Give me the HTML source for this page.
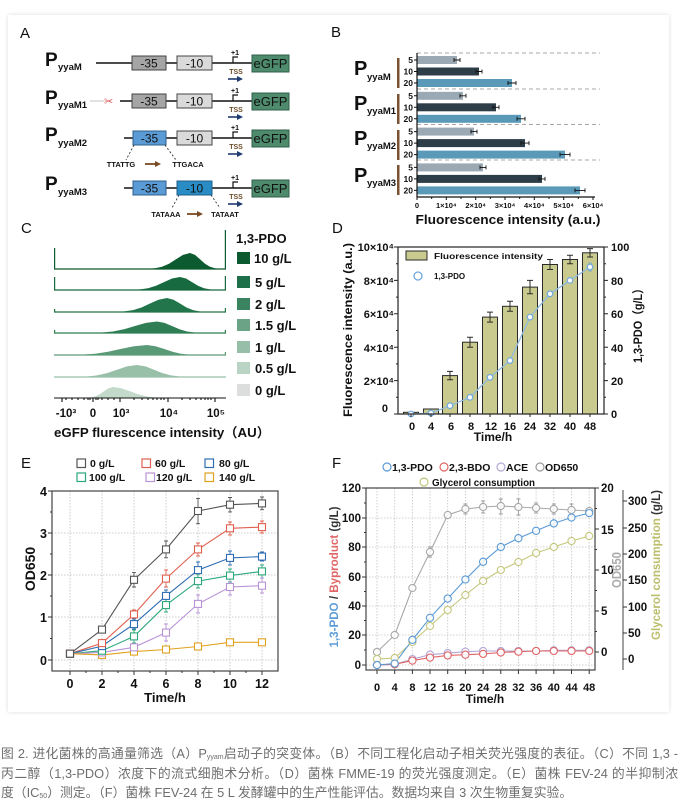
<!DOCTYPE html>
<html><head><meta charset="utf-8"><style>
html,body{margin:0;padding:0;background:#fff;width:680px;height:804px;overflow:hidden;position:relative;}
.card{position:absolute;left:8px;top:15px;width:661px;height:697px;background:#fff;box-shadow:0 0 4px rgba(0,0,0,0.14);}
svg{position:absolute;left:0;top:0;}
.cap{position:absolute;left:1px;width:677px;font-family:"Liberation Sans","Noto Sans CJK SC",sans-serif;font-size:12.8px;color:#6e6e6e;line-height:19.5px;white-space:nowrap;}
.j{text-align:justify;text-align-last:justify;}
sub{font-size:7px;vertical-align:-1px;line-height:0;}
</style></head><body>
<div class="card"></div>
<svg width="680" height="804" viewBox="0 0 680 804" font-family="Liberation Sans, Arial, sans-serif">
<!-- Panel labels -->
<g font-size="15" fill="#111">
<text x="20" y="38">A</text><text x="331" y="37">B</text>
<text x="21" y="233">C</text><text x="332" y="233">D</text>
<text x="21" y="468">E</text><text x="332" y="468">F</text>
</g>

<!-- ===== Panel A ===== -->
<defs>
<g id="tss">
<path d="M233,63 V57 H238" fill="none" stroke="#111" stroke-width="1.2"/>
<text x="235" y="55" font-size="7" font-weight="bold" text-anchor="middle" fill="#111">+1</text>
<text x="236" y="74" font-size="7" font-weight="bold" text-anchor="middle" fill="#6b4c2a">TSS</text>
<line x1="228" y1="79" x2="238" y2="79" stroke="#1f3b70" stroke-width="1.6"/>
<polygon points="237,76 243,79 237,82" fill="#1f3b70"/>
<rect x="252" y="55" width="37" height="17" fill="#4e8b6c" stroke="#2f5f48"/>
<text x="270.5" y="68" font-size="13" text-anchor="middle" fill="#111">eGFP</text>
</g>
</defs>
<g font-weight="bold" fill="#111">
<text x="45" y="66" font-size="19">P</text><text x="58" y="70" font-size="9.5">yyaM</text>
<text x="45" y="104" font-size="19">P</text><text x="58" y="108" font-size="9.5">yyaM1</text>
<text x="45" y="141" font-size="19">P</text><text x="58" y="146" font-size="9.5">yyaM2</text>
<text x="45" y="190" font-size="19">P</text><text x="58" y="195" font-size="9.5">yyaM3</text>
</g>
<!-- row1 -->
<line x1="96" y1="63" x2="252" y2="63" stroke="#111" stroke-width="1.5"/>
<rect x="132" y="56" width="34" height="14" fill="#a5a5a5" stroke="#444"/>
<rect x="177" y="56" width="35" height="14" fill="#dadada" stroke="#444"/>
<text x="149" y="67.5" font-size="12" text-anchor="middle" fill="#111">-35</text>
<text x="194.5" y="67.5" font-size="12" text-anchor="middle" fill="#111">-10</text>
<use href="#tss"/>
<!-- row2 -->
<g transform="translate(0,38)">
<line x1="90" y1="63" x2="104" y2="63" stroke="#cfcfcf" stroke-width="1.2"/>
<text x="104" y="67" font-size="11" fill="#d9534f">✂</text>
<line x1="120" y1="63" x2="252" y2="63" stroke="#111" stroke-width="1.5"/>
<rect x="132" y="56" width="34" height="14" fill="#a5a5a5" stroke="#444"/>
<rect x="177" y="56" width="35" height="14" fill="#dadada" stroke="#444"/>
<text x="149" y="67.5" font-size="12" text-anchor="middle" fill="#111">-35</text>
<text x="194.5" y="67.5" font-size="12" text-anchor="middle" fill="#111">-10</text>
<use href="#tss"/>
</g>
<!-- row3 -->
<g transform="translate(0,75)">
<line x1="124" y1="63" x2="252" y2="63" stroke="#111" stroke-width="1.5"/>
<rect x="133" y="56" width="33" height="14" fill="#5b9bd5" stroke="#2d5f8a"/>
<rect x="177" y="56" width="35" height="14" fill="#dadada" stroke="#444"/>
<text x="149.5" y="67.5" font-size="12" text-anchor="middle" fill="#111">-35</text>
<text x="194.5" y="67.5" font-size="12" text-anchor="middle" fill="#111">-10</text>
<use href="#tss"/>
</g>
<g stroke="#333" stroke-dasharray="2,2" stroke-width="0.9">
<line x1="134" y1="145" x2="126" y2="160"/><line x1="165" y1="145" x2="176" y2="160"/>
<line x1="179" y1="195" x2="172" y2="208"/><line x1="211" y1="195" x2="220" y2="208"/>
</g>
<g font-size="7.5" font-weight="bold" fill="#111" text-anchor="middle">
<text x="121" y="167">TTATTG</text><text x="188" y="167">TTGACA</text>
<text x="166" y="217">TATAAA</text><text x="225" y="217">TATAAT</text>
</g>
<line x1="145" y1="164" x2="156" y2="164" stroke="#7a4a22" stroke-width="1.8"/>
<polygon points="155,161 161,164 155,167" fill="#7a4a22"/>
<line x1="187" y1="214" x2="198" y2="214" stroke="#7a4a22" stroke-width="1.8"/>
<polygon points="197,211 203,214 197,217" fill="#7a4a22"/>
<!-- row4 -->
<g transform="translate(0,125)">
<line x1="124" y1="63" x2="252" y2="63" stroke="#111" stroke-width="1.5"/>
<rect x="133" y="56" width="33" height="14" fill="#5b9bd5" stroke="#2d5f8a"/>
<rect x="177" y="56" width="35" height="14" fill="#2a8cc4" stroke="#1d5f88"/>
<text x="149.5" y="67.5" font-size="12" text-anchor="middle" fill="#111">-35</text>
<text x="194.5" y="67.5" font-size="12" text-anchor="middle" fill="#111">-10</text>
<use href="#tss"/>
</g>

<!-- ===== Panel B ===== -->
<g stroke="#8a8a8a" stroke-dasharray="4,3" stroke-width="0.8">
<line x1="417" y1="53" x2="600" y2="53"/><line x1="417" y1="89" x2="600" y2="89"/>
<line x1="417" y1="124.5" x2="600" y2="124.5"/><line x1="417" y1="160" x2="600" y2="160"/>
</g>
<g>
<rect x="417" y="56" width="40" height="8" fill="#9aa9b3"/>
<rect x="417" y="67.5" width="62" height="8" fill="#2d3e48"/>
<rect x="417" y="79" width="95" height="8" fill="#5a9ab8"/>
<rect x="417" y="91.8" width="46" height="8" fill="#9aa9b3"/>
<rect x="417" y="103.3" width="79" height="8" fill="#2d3e48"/>
<rect x="417" y="114.8" width="104" height="8" fill="#5a9ab8"/>
<rect x="417" y="127.6" width="57" height="8" fill="#9aa9b3"/>
<rect x="417" y="139.1" width="108" height="8" fill="#2d3e48"/>
<rect x="417" y="150.6" width="148" height="8" fill="#5a9ab8"/>
<rect x="417" y="163.4" width="66" height="8" fill="#9aa9b3"/>
<rect x="417" y="174.9" width="125" height="8" fill="#2d3e48"/>
<rect x="417" y="186.4" width="163" height="8" fill="#5a9ab8"/>
</g>
<g stroke="#111" stroke-width="0.9" fill="none">
<path d="M454,60 H460 M454,58 V62 M460,58 V62"/>
<path d="M476,71.5 H482 M476,69.5 V73.5 M482,69.5 V73.5"/>
<path d="M508,83 H516 M508,81 V85 M516,81 V85"/>
<path d="M460,95.8 H466 M460,93.8 V97.8 M466,93.8 V97.8"/>
<path d="M493,107.3 H499 M493,105.3 V109.3 M499,105.3 V109.3"/>
<path d="M517,118.8 H525 M517,116.8 V120.8 M525,116.8 V120.8"/>
<path d="M471,131.6 H477 M471,129.6 V133.6 M477,129.6 V133.6"/>
<path d="M521,143.1 H529 M521,141.1 V145.1 M529,141.1 V145.1"/>
<path d="M560,154.6 H570 M560,152.6 V156.6 M570,152.6 V156.6"/>
<path d="M480,167.4 H486 M480,165.4 V169.4 M486,165.4 V169.4"/>
<path d="M539,178.9 H545 M539,176.9 V180.9 M545,176.9 V180.9"/>
<path d="M575,190.4 H585 M575,188.4 V192.4 M585,188.4 V192.4"/>
</g>
<g stroke="#111" stroke-width="1.2">
<line x1="417" y1="53" x2="417" y2="197.5"/>
<line x1="416.5" y1="197" x2="595" y2="197"/>
</g>
<g stroke="#111" stroke-width="1">
<path d="M417,197 v3 M446.3,197 v3 M475.7,197 v3 M505,197 v3 M534.3,197 v3 M563.7,197 v3 M593,197 v3"/>
<path d="M431.7,197 v2 M461,197 v2 M490.3,197 v2 M519.7,197 v2 M549,197 v2 M578.3,197 v2"/>
<path d="M414,60 h3 M414,71.5 h3 M414,83 h3 M414,95.8 h3 M414,107.3 h3 M414,118.8 h3 M414,131.6 h3 M414,143.1 h3 M414,154.6 h3 M414,167.4 h3 M414,178.9 h3 M414,190.4 h3"/>
</g>
<g font-size="8.5" font-weight="bold" fill="#111" text-anchor="end">
<text x="413" y="63">5</text><text x="413" y="74.5">10</text><text x="413" y="86">20</text>
<text x="413" y="98.8">5</text><text x="413" y="110.3">10</text><text x="413" y="121.8">20</text>
<text x="413" y="134.6">5</text><text x="413" y="146.1">10</text><text x="413" y="157.6">20</text>
<text x="413" y="170.4">5</text><text x="413" y="181.9">10</text><text x="413" y="193.4">20</text>
</g>
<g fill="#7a5230">
<rect x="397" y="58" width="2.5" height="30"/><rect x="397" y="94" width="2.5" height="30"/>
<rect x="397" y="130" width="2.5" height="30"/><rect x="397" y="165" width="2.5" height="30"/>
</g>
<g font-weight="bold" fill="#111">
<text x="354" y="75" font-size="20">P</text><text x="367" y="80" font-size="9.5">yyaM</text>
<text x="354" y="110" font-size="20">P</text><text x="367" y="114" font-size="9.5">yyaM1</text>
<text x="354" y="145" font-size="20">P</text><text x="367" y="149" font-size="9.5">yyaM2</text>
<text x="354" y="182" font-size="20">P</text><text x="367" y="186" font-size="9.5">yyaM3</text>
</g>
<g font-size="7.5" font-weight="bold" fill="#111" text-anchor="middle">
<text x="417" y="208">0</text><text x="446.3" y="208">1×10⁴</text><text x="475.7" y="208">2×10⁴</text>
<text x="505" y="208">3×10⁴</text><text x="534.3" y="208">4×10⁴</text><text x="563.7" y="208">5×10⁴</text><text x="593" y="208">6×10⁴</text>
</g>
<text x="508" y="224" font-size="12.5" font-weight="bold" text-anchor="middle" fill="#111" textLength="185" lengthAdjust="spacingAndGlyphs">Fluorescence intensity (a.u.)</text>

<!-- ===== Panel C ===== -->
<g>
<path d="M54,269 L148,268.8 L155,268.3 L162,266.8 L169,263.8 L176,259.3 L183,254.9 L190,253 L195,254.9 L200,259.3 L205,263.8 L210,266.8 L215,268.3 L220,268.8 L226,269 Z" fill="#0c5a2f"/>
<path d="M54,269 H226 M54.6,248 V269 M225.4,230 V269" stroke="#0c5a2f" stroke-width="1.2" fill="none"/>
<path d="M54,290 L132,289.9 L140,289.4 L148,288.2 L156,285.8 L164,282.1 L172,278.5 L180,277 L186,278.5 L192,282.1 L198,285.8 L204,288.2 L210,289.4 L216,289.9 L226,290 Z" fill="#17693f"/>
<path d="M54,290 H226 M54.6,277 V290 M225.4,276 V290" stroke="#17693f" stroke-width="1.2" fill="none"/>
<path d="M54,312 L116,311.9 L124.5,311.4 L133,310.1 L141.5,307.5 L150,303.5 L158.5,299.7 L167,298 L173.5,299.7 L180,303.5 L186.5,307.5 L193,310.1 L199.5,311.4 L206,311.9 L226,312 Z" fill="#22744a"/>
<path d="M54,312 H226 M54.6,309 V312 M225.4,308 V312" stroke="#22744a" stroke-width="1.2" fill="none"/>
<path d="M54,333 L91,332.9 L102,332.5 L113,331.5 L124,329.3 L135,326 L146,322.9 L157,321.5 L164.5,322.9 L172,326 L179.5,329.3 L187,331.5 L194.5,332.5 L202,332.9 L226,333 Z" fill="#2f7e54"/>
<path d="M54,333 H226 M54.6,330 V333 M225.4,330 V333" stroke="#2f7e54" stroke-width="1.2" fill="none"/>
<path d="M54,355 L69,354.9 L82,354.6 L95,353.7 L108,351.8 L121,348.9 L134,346.2 L147,345 L155.5,346.2 L164,348.9 L172.5,351.8 L181,353.7 L189.5,354.6 L198,354.9 L226,355 Z" fill="#5b9a77"/>
<path d="M54,355 H226 M225.4,352 V355" stroke="#5b9a77" stroke-width="1.2" fill="none"/>
<path d="M54,377 L77,376.9 L87,376.5 L97,375.4 L107,373.1 L117,369.7 L127,366.4 L137,365 L145.5,366.4 L154,369.7 L162.5,373.1 L171,375.4 L179.5,376.5 L188,376.9 L226,377 Z" fill="#98bfa8"/>
<path d="M54,377 H226" stroke="#98bfa8" stroke-width="1.2" fill="none"/>
<path d="M80,398 L86,397.9 L90.5,397.5 L95,396.5 L99.5,394.4 L104,391.3 L108.5,388.3 L113,387 L121.5,388.3 L130,391.3 L138.5,394.4 L147,396.5 L155.5,397.5 L164,397.9 L170,398 Z" fill="#c3dacb"/>
</g>
<g stroke="#111" stroke-width="1.1" fill="none">
<line x1="54" y1="398" x2="226" y2="398"/>
<path d="M62,398 v4 M93,398 v4 M120,398 v4 M168,398 v4 M215,398 v4"/>
<path d="M66,398 v2 M72,398 v2 M78,398 v2 M84,398 v2 M88,398 v2 M90,398 v2 M96,398 v2 M98,398 v2 M102,398 v2 M108,398 v2 M114,398 v2 M134,398 v2 M142,398 v2 M148,398 v2 M153,398 v2 M157,398 v2 M161,398 v2 M164,398 v2 M182,398 v2 M190,398 v2 M196,398 v2 M201,398 v2 M205,398 v2 M208,398 v2 M211,398 v2"/>
</g>
<g font-size="11.5" font-weight="bold" fill="#111" text-anchor="middle">
<text x="66" y="417">-10³</text><text x="93" y="417">0</text><text x="121" y="417">10³</text>
<text x="169" y="417">10⁴</text><text x="216" y="417">10⁵</text>
</g>
<text x="54" y="437" font-size="13" font-weight="bold" fill="#111" font-family="Liberation Sans, Noto Sans CJK SC, sans-serif" textLength="216" lengthAdjust="spacingAndGlyphs">eGFP flurescence intensity（AU）</text>
<text x="236" y="243" font-size="13" font-weight="bold" fill="#111">1,3-PDO</text>
<g>
<rect x="237" y="252" width="13" height="12" fill="#0c5a2f"/>
<rect x="237" y="276" width="13" height="12" fill="#1d7049"/>
<rect x="237" y="298" width="13" height="12" fill="#3a8461"/>
<rect x="237" y="319" width="13" height="12" fill="#6aa386"/>
<rect x="237" y="341" width="13" height="12" fill="#97bea8"/>
<rect x="237" y="362" width="13" height="12" fill="#b9d3c4"/>
<rect x="237" y="384" width="13" height="12" fill="#dcdedd"/>
</g>
<g font-size="13" font-weight="bold" fill="#111">
<text x="254" y="263">10 g/L</text><text x="255" y="287">5 g/L</text><text x="255" y="309">2 g/L</text>
<text x="255" y="330">1.5 g/L</text><text x="255" y="352">1 g/L</text><text x="255" y="373">0.5 g/L</text><text x="255" y="395">0 g/L</text>
</g>

<!-- ===== Panel D ===== -->
<g fill="#c9ca8d" stroke="#2a2a2a" stroke-width="1">
<rect x="403.5" y="412.3" width="15" height="1.7"/>
<rect x="423.5" y="409" width="15" height="5"/>
<rect x="442.5" y="375.6" width="15" height="38.4"/>
<rect x="462.5" y="342.2" width="15" height="71.8"/>
<rect x="482.5" y="317.1" width="15" height="96.9"/>
<rect x="502.5" y="306.3" width="15" height="107.7"/>
<rect x="522.5" y="287.1" width="15" height="126.9"/>
<rect x="542.5" y="264.5" width="15" height="149.5"/>
<rect x="562.5" y="259.5" width="15" height="154.5"/>
<rect x="582.5" y="252.8" width="15" height="161.2"/>
</g>
<g stroke="#2a2a2a" stroke-width="1" fill="none">
<path d="M450,371.4 V379.8 M447,371.4 h6 M447,379.8 h6"/>
<path d="M470,337.2 V347.2 M467,337.2 h6 M467,347.2 h6"/>
<path d="M490,312.1 V322.1 M487,312.1 h6 M487,322.1 h6"/>
<path d="M510,301.3 V311.3 M507,301.3 h6 M507,311.3 h6"/>
<path d="M530,280.4 V293.8 M527,280.4 h6 M527,293.8 h6"/>
<path d="M550,259.5 V269.5 M547,259.5 h6 M547,269.5 h6"/>
<path d="M570,255.3 V263.7 M567,255.3 h6 M567,263.7 h6"/>
<path d="M590,248.6 V257 M587,248.6 h6 M587,257 h6"/>
</g>
<polyline points="411,414 431,413.2 450,405.7 470,397.3 490,377.3 510,360.6 530,317.1 550,293.8 570,280.4 590,267" fill="none" stroke="#8fbbe0" stroke-width="1.3"/>
<path d="M590,263 V271 M588,263 h4 M588,271 h4" stroke="#6fa8dc" stroke-width="0.8"/>
<g fill="#fff" stroke="#6fa8dc" stroke-width="1.2">
<circle cx="411" cy="414" r="2.8"/><circle cx="431" cy="413.2" r="2.8"/><circle cx="450" cy="405.7" r="2.8"/>
<circle cx="470" cy="397.3" r="2.8"/><circle cx="490" cy="377.3" r="2.8"/><circle cx="510" cy="360.6" r="2.8"/>
<circle cx="530" cy="317.1" r="2.8"/><circle cx="550" cy="293.8" r="2.8"/><circle cx="570" cy="280.4" r="2.8"/>
<circle cx="590" cy="267" r="2.8"/>
</g>
<rect x="398" y="247" width="206" height="167" fill="none" stroke="#222" stroke-width="1.2"/>
<g stroke="#222" stroke-width="1">
<path d="M398,247 h-4 M398,280.4 h-4 M398,313.8 h-4 M398,347.2 h-4 M398,380.6 h-4 M398,414 h-4"/>
<path d="M398,263.7 h-2 M398,297.1 h-2 M398,330.5 h-2 M398,363.9 h-2 M398,397.3 h-2"/>
<path d="M604,247 h4 M604,280.4 h4 M604,313.8 h4 M604,347.2 h4 M604,380.6 h4 M604,414 h4"/>
<path d="M604,263.7 h2 M604,297.1 h2 M604,330.5 h2 M604,363.9 h2 M604,397.3 h2"/>
<path d="M411,414 v3 M431,414 v3 M450,414 v3 M470,414 v3 M490,414 v3 M510,414 v3 M530,414 v3 M550,414 v3 M570,414 v3 M590,414 v3"/>
</g>
<g font-size="11" font-weight="bold" fill="#111" text-anchor="end">
<text x="394" y="251">10×10⁴</text><text x="394" y="285">8×10⁴</text><text x="394" y="318">6×10⁴</text>
<text x="394" y="352">4×10⁴</text><text x="394" y="385">2×10⁴</text><text x="388" y="412">0</text>
</g>
<g font-size="11" font-weight="bold" fill="#111">
<text x="611" y="251">100</text><text x="611" y="285">80</text><text x="611" y="318">60</text>
<text x="611" y="352">40</text><text x="611" y="385">20</text><text x="611" y="418">0</text>
</g>
<g font-size="11" font-weight="bold" fill="#111" text-anchor="middle">
<text x="412" y="430">0</text><text x="431" y="430">4</text><text x="451" y="430">6</text><text x="471" y="430">8</text>
<text x="491" y="430">12</text><text x="510" y="430">16</text><text x="530" y="430">24</text><text x="550" y="430">32</text>
<text x="570" y="430">40</text><text x="590" y="430">48</text>
</g>
<text x="493" y="441" font-size="12" font-weight="bold" text-anchor="middle" fill="#111">Time/h</text>
<text transform="translate(352,330) rotate(-90)" font-size="12" font-weight="bold" text-anchor="middle" fill="#111" textLength="174" lengthAdjust="spacingAndGlyphs">Fluorescence intensity (a.u.)</text>
<text transform="translate(642,323) rotate(-90)" font-size="12" font-weight="bold" text-anchor="middle" fill="#111" font-family="Liberation Sans, Noto Sans CJK SC, sans-serif" textLength="80" lengthAdjust="spacingAndGlyphs">1,3-PDO（g/L）</text>
<rect x="406" y="251" width="21" height="9" fill="#c9ca8d" stroke="#2a2a2a"/>
<text x="434" y="259" font-size="8.7" font-weight="bold" fill="#111" textLength="109" lengthAdjust="spacingAndGlyphs">Fluorescence intensity</text>
<circle cx="418" cy="276" r="4" fill="#fff" stroke="#6fa8dc" stroke-width="1.3"/>
<text x="434" y="279" font-size="8" font-weight="bold" fill="#111">1,3-PDO</text>

<!-- ===== Panel E ===== -->
<g stroke="#bdbdbd" stroke-width="0.8" stroke-dasharray="1.5,1.5">
<path d="M70,491 V671 M102,491 V671 M134,491 V671 M166,491 V671 M198,491 V671 M230,491 V671 M262,491 V671"/>
<path d="M52,533 H278 M52,575 H278 M52,617 H278 M52,660 H278"/>
</g>
<g font-size="10.5" font-weight="bold" fill="#111">
<rect x="77" y="459" width="8.5" height="8.5" fill="none" stroke="#555" stroke-width="1.2"/><text x="90" y="467">0 g/L</text>
<rect x="142" y="459" width="8.5" height="8.5" fill="none" stroke="#e0604f" stroke-width="1.2"/><text x="155" y="467">60 g/L</text>
<rect x="205" y="459" width="8.5" height="8.5" fill="none" stroke="#2e6db4" stroke-width="1.2"/><text x="219" y="467">80 g/L</text>
<rect x="77" y="473" width="8.5" height="8.5" fill="none" stroke="#2aa87a" stroke-width="1.2"/><text x="89" y="481">100 g/L</text>
<rect x="146" y="473" width="8.5" height="8.5" fill="none" stroke="#b893d6" stroke-width="1.2"/><text x="156" y="481">120 g/L</text>
<rect x="205" y="473" width="8.5" height="8.5" fill="none" stroke="#e0a21e" stroke-width="1.2"/><text x="219" y="481">140 g/L</text>
</g>
<!-- error bars E -->
<g stroke-width="0.9" fill="none">
<path stroke="#555" d="M134,572.6 V587 M132,572.6 h4 M132,587 h4 M166,541 V557.8 M164,541 h4 M164,557.8 h4 M198,498.4 V523.7 M196,498.4 h4 M196,523.7 h4 M230,497.5 V511.9 M228,497.5 h4 M228,511.9 h4 M262,497 V509.7 M260,497 h4 M260,509.7 h4"/>
<path stroke="#e0604f" d="M134,610 V618.8 M132,610 h4 M132,618.8 h4 M166,570 V587 M164,570 h4 M164,587 h4 M198,543 V556 M196,543 h4 M196,556 h4 M230,522 V535 M228,522 h4 M228,535 h4 M262,521 V533 M260,521 h4 M260,533 h4"/>
<path stroke="#2e6db4" d="M134,619 V629 M132,619 h4 M132,629 h4 M166,590 V602 M164,590 h4 M164,602 h4 M198,562 V578 M196,562 h4 M196,578 h4 M230,551 V565 M228,551 h4 M228,565 h4 M262,552 V561 M260,552 h4 M260,561 h4"/>
<path stroke="#2aa87a" d="M134,630 V643 M132,630 h4 M132,643 h4 M166,598 V612 M164,598 h4 M164,612 h4 M198,574 V588 M196,574 h4 M196,588 h4 M230,569 V582 M228,569 h4 M228,582 h4 M262,565 V578 M260,565 h4 M260,578 h4"/>
<path stroke="#b893d6" d="M166,624 V641 M164,624 h4 M164,641 h4 M198,595 V613 M196,595 h4 M196,613 h4 M230,579 V595 M228,579 h4 M228,595 h4 M262,578 V593 M260,578 h4 M260,593 h4"/>
</g>
<g fill="none" stroke-width="1.1">
<polyline stroke="#555" points="70,653.7 102,629.6 134,579.8 166,549.4 198,511 230,504.7 262,503.4"/>
<polyline stroke="#e0604f" points="70,653.7 102,643.1 134,614.4 166,578.6 198,549.4 230,528.3 262,527.1"/>
<polyline stroke="#2e6db4" points="70,653.7 102,646.1 134,624.1 166,595.9 198,570.1 230,557.9 262,556.6"/>
<polyline stroke="#2aa87a" points="70,653.7 102,650.7 134,636.4 166,605.1 198,581.1 230,575.6 262,571.4"/>
<polyline stroke="#b893d6" points="70,653.7 102,652.4 134,647.3 166,632.6 198,603.9 230,587 262,585.7"/>
<polyline stroke="#e0a21e" points="70,653.7 102,654.9 134,651.6 166,649.5 198,646.5 230,642.3 262,642.3"/>
</g>
<g fill="#fff" stroke-width="1.1">
<g stroke="#e0a21e"><rect x="66.5" y="650.2" width="7" height="7"/><rect x="98.5" y="651.4" width="7" height="7"/><rect x="130.5" y="648.1" width="7" height="7"/><rect x="162.5" y="646" width="7" height="7"/><rect x="194.5" y="643" width="7" height="7"/><rect x="226.5" y="638.8" width="7" height="7"/><rect x="258.5" y="638.8" width="7" height="7"/></g>
<g stroke="#b893d6"><rect x="66.5" y="650.2" width="7" height="7"/><rect x="98.5" y="648.9" width="7" height="7"/><rect x="130.5" y="643.8" width="7" height="7"/><rect x="162.5" y="629.1" width="7" height="7"/><rect x="194.5" y="600.4" width="7" height="7"/><rect x="226.5" y="583.5" width="7" height="7"/><rect x="258.5" y="582.2" width="7" height="7"/></g>
<g stroke="#2aa87a"><rect x="66.5" y="650.2" width="7" height="7"/><rect x="98.5" y="647.2" width="7" height="7"/><rect x="130.5" y="632.9" width="7" height="7"/><rect x="162.5" y="601.6" width="7" height="7"/><rect x="194.5" y="577.6" width="7" height="7"/><rect x="226.5" y="572.1" width="7" height="7"/><rect x="258.5" y="567.9" width="7" height="7"/></g>
<g stroke="#2e6db4"><rect x="66.5" y="650.2" width="7" height="7"/><rect x="98.5" y="642.6" width="7" height="7"/><rect x="130.5" y="620.6" width="7" height="7"/><rect x="162.5" y="592.4" width="7" height="7"/><rect x="194.5" y="566.6" width="7" height="7"/><rect x="226.5" y="554.4" width="7" height="7"/><rect x="258.5" y="553.1" width="7" height="7"/></g>
<g stroke="#e0604f"><rect x="66.5" y="650.2" width="7" height="7"/><rect x="98.5" y="639.6" width="7" height="7"/><rect x="130.5" y="610.9" width="7" height="7"/><rect x="162.5" y="575.1" width="7" height="7"/><rect x="194.5" y="545.9" width="7" height="7"/><rect x="226.5" y="524.8" width="7" height="7"/><rect x="258.5" y="523.6" width="7" height="7"/></g>
<g stroke="#555"><rect x="66.5" y="650.2" width="7" height="7"/><rect x="98.5" y="626.1" width="7" height="7"/><rect x="130.5" y="576.3" width="7" height="7"/><rect x="162.5" y="545.9" width="7" height="7"/><rect x="194.5" y="507.5" width="7" height="7"/><rect x="226.5" y="501.2" width="7" height="7"/><rect x="258.5" y="499.9" width="7" height="7"/></g>
</g>
<rect x="52" y="491" width="226" height="180" fill="none" stroke="#333" stroke-width="1.1"/>
<g stroke="#333" stroke-width="1">
<path d="M52,491 h-4 M52,533 h-4 M52,575 h-4 M52,617 h-4 M52,660 h-4 M52,512 h-2 M52,554 h-2 M52,596 h-2 M52,638.5 h-2"/>
<path d="M70,671 v4 M102,671 v4 M134,671 v4 M166,671 v4 M198,671 v4 M230,671 v4 M262,671 v4 M86,671 v2 M118,671 v2 M150,671 v2 M182,671 v2 M214,671 v2 M246,671 v2"/>
</g>
<g font-size="12.5" font-weight="bold" fill="#111" text-anchor="end">
<text x="47" y="496">4</text><text x="47" y="538">3</text><text x="47" y="580">2</text><text x="47" y="622">1</text><text x="47" y="665">0</text>
</g>
<g font-size="12.5" font-weight="bold" fill="#111" text-anchor="middle">
<text x="70" y="688">0</text><text x="102" y="688">2</text><text x="134" y="688">4</text><text x="166" y="688">6</text>
<text x="198" y="688">8</text><text x="230" y="688">10</text><text x="262" y="688">12</text>
</g>
<text x="165" y="702" font-size="13" font-weight="bold" text-anchor="middle" fill="#111">Time/h</text>
<text transform="translate(35,569) rotate(-90)" font-size="14" font-weight="bold" text-anchor="middle" fill="#111">OD650</text>

<!-- ===== Panel F ===== -->
<g stroke="#c4c4c4" stroke-width="0.8" stroke-dasharray="1.5,1.5">
<path d="M377,488 V670 M394.7,488 V670 M412.4,488 V670 M430,488 V670 M447.7,488 V670 M465.4,488 V670 M483.1,488 V670 M500.8,488 V670 M518.4,488 V670 M536.1,488 V670 M553.8,488 V670 M571.5,488 V670 M589.2,488 V670"/>
<path d="M366,518 H595 M366,547 H595 M366,577 H595 M366,606 H595 M366,635 H595 M366,665 H595"/>
</g>
<g font-size="10.5" font-weight="bold" fill="#111">
<circle cx="387" cy="467" r="4" fill="none" stroke="#5b9bd5" stroke-width="1.2"/><text x="392" y="471">1,3-PDO</text>
<circle cx="444" cy="467" r="4" fill="none" stroke="#e06666" stroke-width="1.2"/><text x="449" y="471">2,3-BDO</text>
<circle cx="501" cy="467" r="4" fill="none" stroke="#b4a7d6" stroke-width="1.2"/><text x="506" y="471">ACE</text>
<circle cx="540" cy="467" r="4" fill="none" stroke="#9a9a9a" stroke-width="1.2"/><text x="545" y="471">OD650</text>
<circle cx="424" cy="482" r="4" fill="none" stroke="#c5c77d" stroke-width="1.2"/><text x="432" y="486" textLength="103" lengthAdjust="spacingAndGlyphs">Glycerol consumption</text>
</g>
<!-- error bars F -->
<g stroke-width="0.9" fill="none">
<path stroke="#9a9a9a" d="M430,547 V557 M428,547 h4 M428,557 h4 M465.4,504 V514 M463.4,504 h4 M463.4,514 h4 M483.1,501 V513 M481.1,501 h4 M481.1,513 h4 M500.8,499 V514 M498.8,499 h4 M498.8,514 h4 M518.4,499 V515 M516.4,499 h4 M516.4,515 h4 M536.1,503 V513 M534.1,503 h4 M534.1,513 h4 M553.8,504 V514 M551.8,504 h4 M551.8,514 h4 M571.5,504 V516 M569.5,504 h4 M569.5,516 h4"/>
<path stroke="#5b9bd5" d="M483.1,558 V566 M500.8,543 V551 M518.4,534 V542 M553.8,519 V527 M589.2,509 V517"/>
</g>
<g fill="none" stroke-width="1.1">
<polyline stroke="#a8a8a8" points="377,652 394.7,635 412.4,588 430,552 447.7,515 465.4,509 483.1,507 500.8,506 518.4,507 536.1,508 553.8,509 571.5,510 589.2,511"/>
<polyline stroke="#c5c77d" points="377,659 394.7,658 412.4,642 430,626 447.7,610 465.4,595 483.1,581 500.8,570 518.4,562 536.1,553 553.8,547 571.5,541 589.2,536"/>
<polyline stroke="#b4a7d6" points="377,665 394.7,664.3 412.4,659.1 430,654.7 447.7,653.2 465.4,651.7 483.1,651 500.8,651 518.4,651 536.1,651 553.8,650.3 571.5,650.3 589.2,650.3"/>
<polyline stroke="#e06666" points="377,665 394.7,664.3 412.4,660.6 430,657.6 447.7,655.4 465.4,654.7 483.1,653.9 500.8,652.5 518.4,651.7 536.1,651 553.8,651 571.5,651 589.2,651"/>
<polyline stroke="#5b9bd5" points="377,665 394.7,663.5 412.4,639.9 430,617.8 447.7,598.6 465.4,579.5 483.1,561.8 500.8,547 518.4,538.2 536.1,530.8 553.8,523.4 571.5,517.5 589.2,513.1"/>
</g>
<g fill="#fff" fill-opacity="0.85" stroke-width="1.1">
<g stroke="#a8a8a8"><circle cx="377" cy="652" r="3.6"/><circle cx="394.7" cy="635" r="3.6"/><circle cx="412.4" cy="588" r="3.6"/><circle cx="430" cy="552" r="3.6"/><circle cx="447.7" cy="515" r="3.6"/><circle cx="465.4" cy="509" r="3.6"/><circle cx="483.1" cy="507" r="3.6"/><circle cx="500.8" cy="506" r="3.6"/><circle cx="518.4" cy="507" r="3.6"/><circle cx="536.1" cy="508" r="3.6"/><circle cx="553.8" cy="509" r="3.6"/><circle cx="571.5" cy="510" r="3.6"/><circle cx="589.2" cy="511" r="3.6"/></g>
<g stroke="#c5c77d"><circle cx="377" cy="659" r="3.6"/><circle cx="394.7" cy="658" r="3.6"/><circle cx="412.4" cy="642" r="3.6"/><circle cx="430" cy="626" r="3.6"/><circle cx="447.7" cy="610" r="3.6"/><circle cx="465.4" cy="595" r="3.6"/><circle cx="483.1" cy="581" r="3.6"/><circle cx="500.8" cy="570" r="3.6"/><circle cx="518.4" cy="562" r="3.6"/><circle cx="536.1" cy="553" r="3.6"/><circle cx="553.8" cy="547" r="3.6"/><circle cx="571.5" cy="541" r="3.6"/><circle cx="589.2" cy="536" r="3.6"/></g>
<g stroke="#b4a7d6"><circle cx="412.4" cy="659.1" r="3.6"/><circle cx="430" cy="654.7" r="3.6"/><circle cx="447.7" cy="653.2" r="3.6"/><circle cx="465.4" cy="651.7" r="3.6"/><circle cx="483.1" cy="651" r="3.6"/><circle cx="500.8" cy="651" r="3.6"/><circle cx="518.4" cy="651" r="3.6"/><circle cx="536.1" cy="651" r="3.6"/><circle cx="553.8" cy="650.3" r="3.6"/><circle cx="571.5" cy="650.3" r="3.6"/><circle cx="589.2" cy="650.3" r="3.6"/></g>
<g stroke="#e06666"><circle cx="377" cy="665" r="3.6"/><circle cx="394.7" cy="664.3" r="3.6"/><circle cx="412.4" cy="660.6" r="3.6"/><circle cx="430" cy="657.6" r="3.6"/><circle cx="447.7" cy="655.4" r="3.6"/><circle cx="465.4" cy="654.7" r="3.6"/><circle cx="483.1" cy="653.9" r="3.6"/><circle cx="500.8" cy="652.5" r="3.6"/><circle cx="518.4" cy="651.7" r="3.6"/><circle cx="536.1" cy="651" r="3.6"/><circle cx="553.8" cy="651" r="3.6"/><circle cx="571.5" cy="651" r="3.6"/><circle cx="589.2" cy="651" r="3.6"/></g>
<g stroke="#5b9bd5"><circle cx="377" cy="665" r="3.6"/><circle cx="394.7" cy="663.5" r="3.6"/><circle cx="412.4" cy="639.9" r="3.6"/><circle cx="430" cy="617.8" r="3.6"/><circle cx="447.7" cy="598.6" r="3.6"/><circle cx="465.4" cy="579.5" r="3.6"/><circle cx="483.1" cy="561.8" r="3.6"/><circle cx="500.8" cy="547" r="3.6"/><circle cx="518.4" cy="538.2" r="3.6"/><circle cx="536.1" cy="530.8" r="3.6"/><circle cx="553.8" cy="523.4" r="3.6"/><circle cx="571.5" cy="517.5" r="3.6"/><circle cx="589.2" cy="513.1" r="3.6"/></g>
</g>
<rect x="366" y="488" width="229" height="182" fill="none" stroke="#333" stroke-width="1.1"/>
<line x1="623" y1="490" x2="623" y2="670" stroke="#555" stroke-width="1.1"/>
<g stroke="#333" stroke-width="1">
<path d="M366,488 h-4 M366,518 h-4 M366,547 h-4 M366,577 h-4 M366,606 h-4 M366,635 h-4 M366,665 h-4 M366,503 h-2 M366,532.5 h-2 M366,562 h-2 M366,591.5 h-2 M366,620.5 h-2 M366,650 h-2"/>
<path d="M595,488 h4 M595,529 h4 M595,570 h4 M595,611 h4 M595,652 h4 M595,508.5 h2 M595,549.5 h2 M595,590.5 h2 M595,631.5 h2"/>
<path d="M623,501 h4 M623,528 h4 M623,554 h4 M623,580 h4 M623,607 h4 M623,633 h4 M623,659 h4"/>
<path d="M377,670 v4 M394.7,670 v4 M412.4,670 v4 M430,670 v4 M447.7,670 v4 M465.4,670 v4 M483.1,670 v4 M500.8,670 v4 M518.4,670 v4 M536.1,670 v4 M553.8,670 v4 M571.5,670 v4 M589.2,670 v4"/>
</g>
<g font-size="11.5" font-weight="bold" fill="#111" text-anchor="end">
<text x="361" y="492">120</text><text x="361" y="522">100</text><text x="361" y="551">80</text><text x="361" y="581">60</text>
<text x="361" y="610">40</text><text x="361" y="639">20</text><text x="361" y="669">0</text>
</g>
<g font-size="11.5" font-weight="bold" fill="#111">
<text x="601" y="492">20</text><text x="601" y="534">15</text><text x="601" y="574">10</text><text x="601" y="615">5</text><text x="601" y="656">0</text>
<text x="628" y="505">300</text><text x="628" y="532">250</text><text x="628" y="558">200</text><text x="628" y="584">150</text>
<text x="628" y="611">100</text><text x="628" y="637">50</text><text x="628" y="663">0</text>
</g>
<g font-size="11" font-weight="bold" fill="#111" text-anchor="middle">
<text x="377" y="691">0</text><text x="394.7" y="691">4</text><text x="412.4" y="691">8</text><text x="430" y="691">12</text>
<text x="447.7" y="691">16</text><text x="465.4" y="691">20</text><text x="483.1" y="691">24</text><text x="500.8" y="691">28</text>
<text x="518.4" y="691">32</text><text x="536.1" y="691">36</text><text x="553.8" y="691">40</text><text x="571.5" y="691">44</text><text x="589.2" y="691">48</text>
</g>
<text x="485" y="703" font-size="12" font-weight="bold" text-anchor="middle" fill="#111">Time/h</text>
<text transform="translate(338,577) rotate(-90)" font-size="11.5" font-weight="bold" text-anchor="middle" textLength="141" lengthAdjust="spacingAndGlyphs"><tspan fill="#5b9bd5">1,3-PDO</tspan><tspan fill="#333"> / </tspan><tspan fill="#e06666">Byproduct</tspan><tspan fill="#333"> (g/L)</tspan></text>
<text transform="translate(621,570) rotate(-90)" font-size="12.5" font-weight="bold" text-anchor="middle" fill="#aaaaaa" textLength="36" lengthAdjust="spacingAndGlyphs">OD650</text>
<text transform="translate(660,565) rotate(-90)" font-size="12" font-weight="bold" text-anchor="middle" textLength="150" lengthAdjust="spacingAndGlyphs"><tspan fill="#bcbe6c">Glycerol consumption</tspan><tspan fill="#333"> (g/L)</tspan></text>
</svg>

<div class="cap j" style="top:744px;">图 2. 进化菌株的高通量筛选（A）P<sub>yyam</sub>启动子的突变体。（B）不同工程化启动子相关荧光强度的表征。（C）不同 1,3 -</div>
<div class="cap j" style="top:763.5px;">丙二醇（1,3-PDO）浓度下的流式细胞术分析。（D）菌株 FMME-19 的荧光强度测定。（E）菌株 FEV-24 的半抑制浓</div>
<div class="cap" style="top:783px;">度（IC<sub>50</sub>）测定。（F）菌株 FEV-24 在 5 L 发酵罐中的生产性能评估。数据均来自 3 次生物重复实验。</div>
</body></html>
